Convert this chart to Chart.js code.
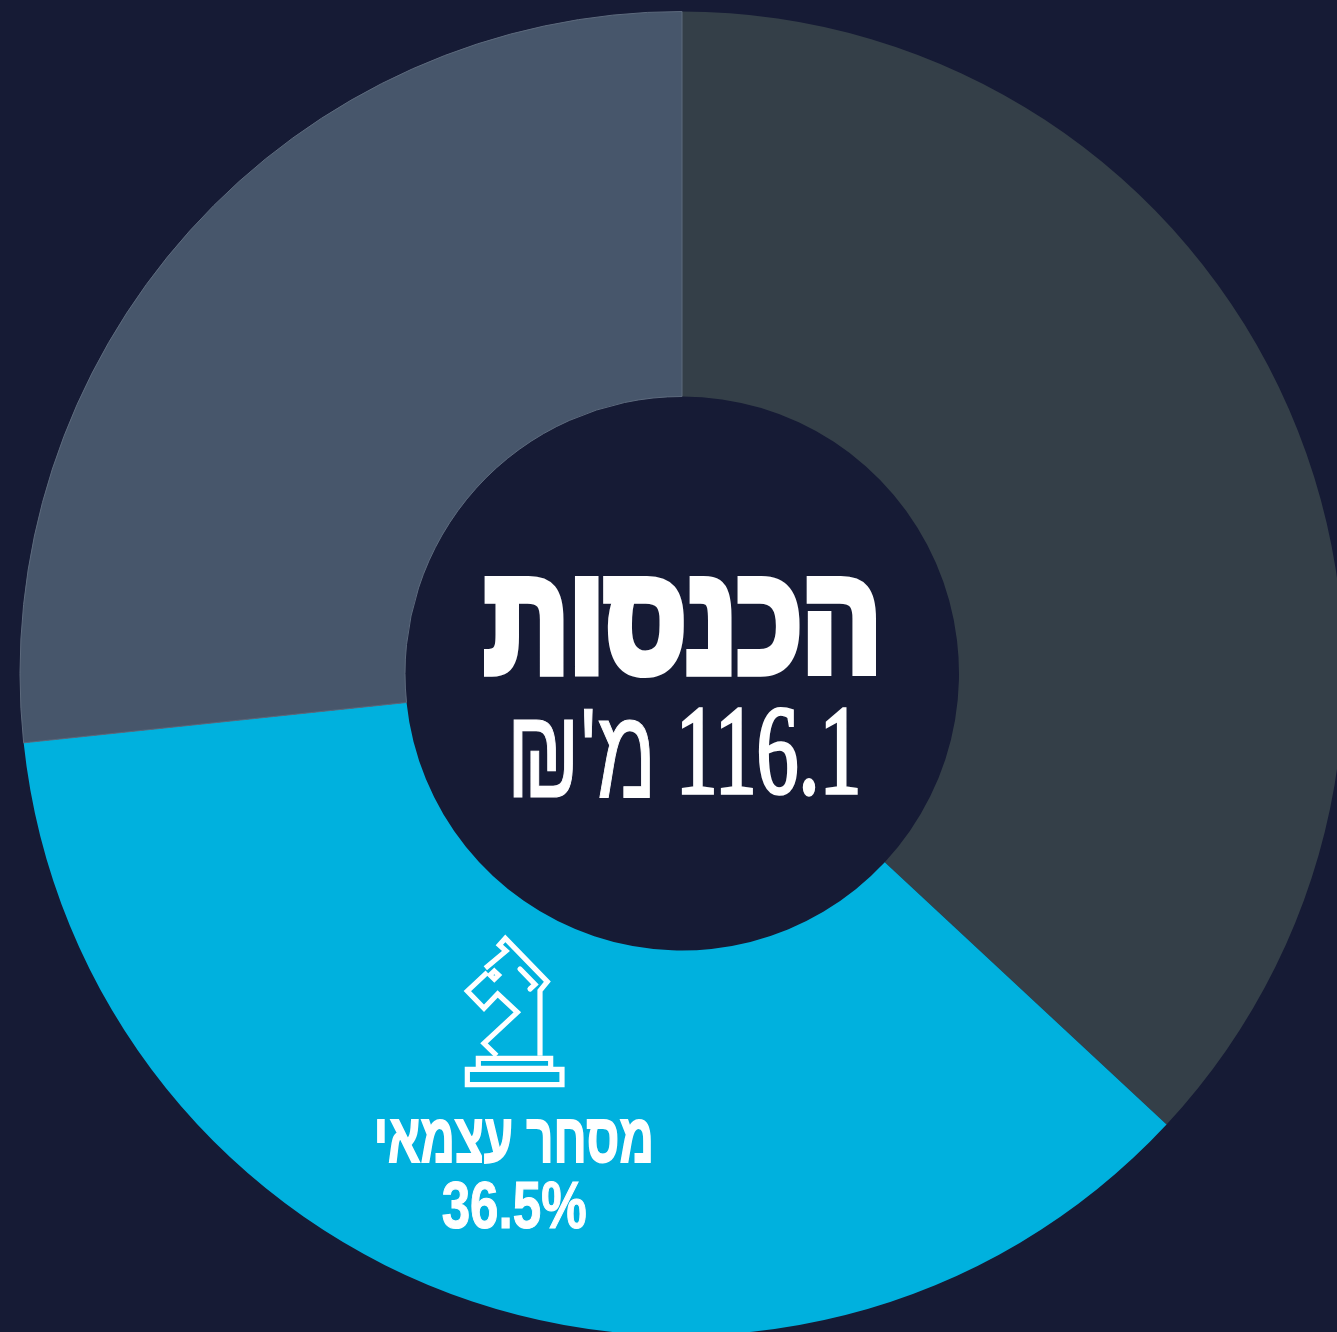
<!DOCTYPE html>
<html lang="he"><head><meta charset="utf-8">
<script src="https://cdn.jsdelivr.net/npm/chart.js@4"></script>
<style>
html,body{margin:0;padding:0;width:1337px;height:1332px;overflow:hidden;background:#161b35}
#wrap{position:absolute;left:0;top:0;width:1364px;height:1347px}
</style></head><body>
<div id="wrap"><canvas id="c"></canvas></div>
<script>
const categories = ["אחר", "מסחר עצמאי", "שירותים"];
const shares = [36.93, 36.40, 26.67];
const sliceColors = ["#343f48", "#00b1de", "#47566b"];
const sliceBorders = ["#343f48", "#00b1de", "#5d6a7d"];
const centerTitle = "הכנסות";
const centerNumber = "116.1";
const centerUnit = "מ'₪";
const sliceLabel = "מסחר עצמאי";
const slicePct = "36.5%";

function fitText(ctx, text, font, x0, x1, y0, y1, bold) {
  const w = bold || 0;
  x0 += w / 2; x1 -= w / 2; y0 += w / 2; y1 -= w / 2;
  ctx.save();
  ctx.font = font; ctx.direction = "rtl"; ctx.textAlign = "left"; ctx.textBaseline = "alphabetic";
  const m = ctx.measureText(text);
  const inkW = m.actualBoundingBoxLeft + m.actualBoundingBoxRight;
  const inkH = m.actualBoundingBoxAscent + m.actualBoundingBoxDescent;
  const sx = (x1 - x0) / inkW, sy = (y1 - y0) / inkH;
  ctx.translate(x0 + m.actualBoundingBoxLeft * sx, y0 + m.actualBoundingBoxAscent * sy);
  ctx.scale(sx, sy);
  ctx.fillStyle = "#ffffff";
  ctx.fillText(text, 0, 0);
  if (w) {
    ctx.strokeStyle = "#ffffff"; ctx.lineJoin = "miter";
    ctx.lineWidth = w / Math.sqrt(sx * sy);
    ctx.strokeText(text, 0, 0);
  }
  ctx.restore();
}
const zx = v => 360 + v / 3, zy = v => 925 + v / 3;
function poly(ctx, pts, close) {
  ctx.beginPath();
  pts.forEach((p, i) => i ? ctx.lineTo(zx(p[0]), zy(p[1])) : ctx.moveTo(zx(p[0]), zy(p[1])));
  if (close) ctx.closePath();
  ctx.stroke();
}
const overlay = {
  id: "overlay",
  afterDraw(chart) {
    const ctx = chart.ctx;
    fitText(ctx, centerTitle, "bold 120px 'Liberation Sans'", 483, 877, 576, 677, 9);
    fitText(ctx, centerNumber, "100px 'Liberation Serif'", 681, 858, 708, 797, 3);
    fitText(ctx, centerUnit, "100px 'Liberation Sans'", 513, 650, 708, 797, 1);
    fitText(ctx, sliceLabel, "bold 60px 'Liberation Sans'", 377, 651, 1120, 1165, 1.5);
    fitText(ctx, slicePct, "bold 60px 'Liberation Sans'", 442, 586, 1181, 1230, 1);
    ctx.save();
    ctx.strokeStyle = "#ffffff"; ctx.lineWidth = 5.2; ctx.lineJoin = "miter";
    poly(ctx, [[410,392],[372,355],[472,262],[413,207],[372,250],[322,198],[382,142]]);
    poly(ctx, [[376,130],[438,78],[418,60],[436,40],[562,170],[540,197],[540,392]]);
    poly(ctx, [[355,400],[572,400],[572,430],[355,430]], true);
    poly(ctx, [[322,433],[606,433],[606,479],[322,479]], true);
    ctx.lineCap = "round";
    poly(ctx, [[480,132],[525,178],[510,192]]);
    ctx.lineCap = "butt"; ctx.lineWidth = 5;
    poly(ctx, [[403,138],[416,150],[403,163],[390,150]], true);
    ctx.restore();
  }
};
new Chart(document.getElementById("c"), {
  type: "doughnut",
  data: { labels: categories, datasets: [{
    data: shares, backgroundColor: sliceColors, borderColor: sliceBorders,
    borderWidth: [0, 0, 1], hoverBorderWidth: 0, hoverOffset: 0
  }]},
  options: {
    responsive: true, maintainAspectRatio: false, animation: false,
    cutout: 277, rotation: 0,
    layout: { padding: 11 },
    events: [],
    plugins: { legend: { display: false }, tooltip: { enabled: false } }
  },
  plugins: [overlay]
});
</script>
</body></html>
